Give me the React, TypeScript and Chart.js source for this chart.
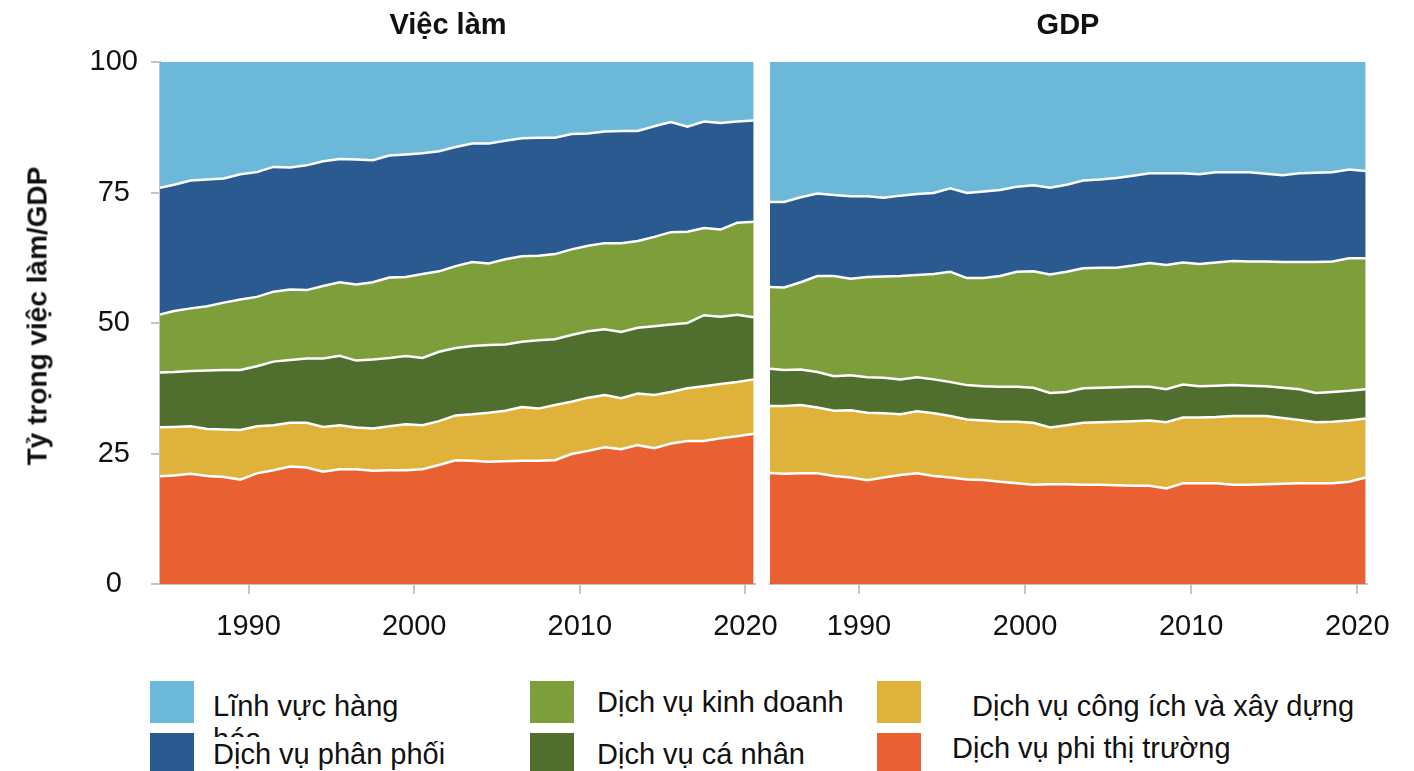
import React, { useEffect, useRef } from "react";
import { Chart, registerables } from "chart.js";

Chart.register(...registerables);

// ---------- data ----------
const years = [
  1984, 1985, 1986, 1987, 1988, 1989, 1990, 1991, 1992, 1993, 1994, 1995, 1996,
  1997, 1998, 1999, 2000, 2001, 2002, 2003, 2004, 2005, 2006, 2007, 2008, 2009,
  2010, 2011, 2012, 2013, 2014, 2015, 2016, 2017, 2018, 2019, 2020,
];

const sectorNames = [
  "Dịch vụ phi thị trường",
  "Dịch vụ công ích và xây dựng",
  "Dịch vụ cá nhân",
  "Dịch vụ kinh doanh",
  "Dịch vụ phân phối",
  "Lĩnh vực hàng hóa",
];
const sectorColors = ["#E96132", "#DFB23B", "#506E2E", "#7D9E3B", "#2B5A91", "#6CB8D8"];

// Employment shares (%)
const empNonMarket = [20.6, 20.8, 21.1, 20.7, 20.5, 20.0, 21.2, 21.8, 22.5, 22.3, 21.5, 22.0, 22.0, 21.7, 21.8, 21.8, 22.0, 22.8, 23.7, 23.6, 23.4, 23.5, 23.6, 23.6, 23.7, 24.9, 25.5, 26.2, 25.8, 26.6, 26.0, 26.9, 27.4, 27.4, 27.9, 28.3, 28.8];
const empUtilities = [9.4, 9.3, 9.1, 9.0, 9.1, 9.5, 9.0, 8.6, 8.4, 8.6, 8.6, 8.4, 8.0, 8.1, 8.4, 8.8, 8.4, 8.4, 8.6, 8.9, 9.4, 9.7, 10.3, 10.0, 10.6, 10.0, 10.2, 10.0, 9.8, 9.9, 10.2, 9.9, 10.1, 10.5, 10.4, 10.4, 10.4];
const empPersonal = [10.5, 10.5, 10.6, 11.2, 11.4, 11.5, 11.5, 12.2, 12.0, 12.3, 13.1, 13.3, 12.8, 13.2, 13.1, 13.1, 12.9, 13.3, 12.9, 13.1, 13.0, 12.7, 12.5, 13.1, 12.6, 12.8, 12.7, 12.6, 12.7, 12.6, 13.2, 12.9, 12.5, 13.6, 12.9, 12.9, 11.9];
const empBusiness = [11.0, 11.7, 12.0, 12.3, 12.9, 13.5, 13.3, 13.4, 13.5, 13.1, 13.9, 14.1, 14.6, 14.8, 15.4, 15.1, 16.1, 15.4, 15.7, 16.1, 15.6, 16.3, 16.4, 16.2, 16.3, 16.4, 16.4, 16.5, 17.0, 16.6, 17.1, 17.7, 17.5, 16.7, 16.7, 17.6, 18.3];
const empDistribution = [24.3, 24.2, 24.5, 24.3, 23.8, 24.0, 23.9, 23.9, 23.4, 23.9, 23.9, 23.6, 23.9, 23.4, 23.4, 23.5, 23.1, 23.0, 22.8, 22.7, 23.0, 22.7, 22.6, 22.6, 22.3, 22.1, 21.5, 21.4, 21.5, 21.1, 21.2, 21.1, 20.1, 20.4, 20.4, 19.4, 19.4];
const empGoods = [24.2, 23.5, 22.7, 22.5, 22.3, 21.5, 21.1, 20.1, 20.2, 19.8, 19.0, 18.6, 18.7, 18.8, 17.9, 17.7, 17.5, 17.1, 16.3, 15.6, 15.6, 15.1, 14.6, 14.5, 14.5, 13.8, 13.7, 13.3, 13.2, 13.2, 12.3, 11.5, 12.4, 11.4, 11.7, 11.4, 11.2];

// GDP shares (%)
const gdpNonMarket = [21.3, 21.1, 21.2, 21.2, 20.7, 20.4, 19.9, 20.4, 20.9, 21.2, 20.7, 20.4, 20.0, 19.9, 19.6, 19.3, 19.0, 19.1, 19.1, 19.0, 19.0, 18.9, 18.8, 18.8, 18.3, 19.3, 19.3, 19.3, 19.0, 19.0, 19.1, 19.2, 19.3, 19.3, 19.3, 19.6, 20.4];
const gdpUtilities = [12.8, 13.0, 13.1, 12.6, 12.5, 12.9, 12.9, 12.3, 11.6, 11.9, 12.0, 11.8, 11.5, 11.4, 11.5, 11.8, 11.9, 10.9, 11.3, 11.9, 12.0, 12.2, 12.4, 12.5, 12.7, 12.6, 12.6, 12.7, 13.2, 13.2, 13.1, 12.6, 12.1, 11.7, 11.8, 11.7, 11.3];
const gdpPersonal = [7.2, 6.9, 6.8, 6.8, 6.6, 6.7, 6.8, 6.8, 6.7, 6.5, 6.5, 6.5, 6.6, 6.6, 6.7, 6.7, 6.7, 6.6, 6.4, 6.6, 6.6, 6.6, 6.6, 6.5, 6.3, 6.3, 6.0, 6.0, 5.9, 5.8, 5.7, 5.8, 5.9, 5.6, 5.7, 5.7, 5.6];
const gdpBusiness = [15.6, 15.8, 16.7, 18.4, 19.2, 18.5, 19.2, 19.4, 19.8, 19.6, 20.2, 21.1, 20.5, 20.7, 21.2, 22.0, 22.3, 22.7, 23.0, 23.0, 23.0, 22.9, 23.2, 23.7, 23.8, 23.4, 23.4, 23.6, 23.8, 23.8, 23.9, 24.1, 24.4, 25.1, 25.0, 25.4, 25.1];
const gdpDistribution = [16.3, 16.4, 16.3, 15.8, 15.5, 15.8, 15.5, 15.1, 15.4, 15.5, 15.5, 16.0, 16.3, 16.6, 16.5, 16.3, 16.5, 16.6, 16.7, 16.8, 16.9, 17.2, 17.2, 17.2, 17.6, 17.1, 17.2, 17.3, 17.0, 17.1, 16.8, 16.6, 17.0, 17.1, 17.1, 17.0, 16.7];
const gdpGoods = [26.8, 26.8, 25.9, 25.2, 25.5, 25.7, 25.7, 26.0, 25.6, 25.3, 25.1, 24.2, 25.1, 24.8, 24.5, 23.9, 23.6, 24.1, 23.5, 22.7, 22.5, 22.2, 21.8, 21.3, 21.3, 21.3, 21.5, 21.1, 21.1, 21.1, 21.4, 21.7, 21.3, 21.2, 21.1, 20.6, 20.9];

const xTickYears = [1990, 2000, 2010, 2020];
const yTickValues = [0, 25, 50, 75, 100];
const panelTitles = ["Việc làm", "GDP"];
const yAxisTitle = "Tỷ trọng việc làm/GDP";

// ---------- chart ----------
const FONT = '"Liberation Sans", Arial, Helvetica, sans-serif';
const AXIS_GREY = "#c4c4c4";

function buildConfig(series: number[][], showY: boolean, padding: any): any {
  return {
    type: "line",
    data: {
      datasets: series.map((vals, i) => ({
        label: sectorNames[i],
        data: vals.map((v, j) => ({ x: years[j] + 0.5, y: v })),
        backgroundColor: sectorColors[i],
        borderColor: "#ffffff",
        borderWidth: i === series.length - 1 ? 0 : 2.5,
        fill: i === 0 ? "origin" : "-1",
        pointRadius: 0,
        pointHoverRadius: 0,
        tension: 0,
      })),
    },
    options: {
      responsive: false,
      animation: false,
      devicePixelRatio: 1,
      events: [],
      layout: { padding },
      plugins: {
        legend: { display: false },
        title: { display: false },
        tooltip: { enabled: false },
      },
      scales: {
        x: {
          type: "linear",
          min: 1984.65,
          max: 2020.58,
          afterBuildTicks: (s: any) => {
            s.ticks = xTickYears.map((v) => ({ value: v }));
          },
          ticks: {
            callback: (v: any) => String(v),
            font: { family: FONT, size: 29 },
            color: "#111111",
            padding: 16,
            maxRotation: 0,
            autoSkip: false,
          },
          grid: {
            drawOnChartArea: false,
            drawTicks: true,
            tickLength: 10,
            color: AXIS_GREY,
            lineWidth: 2,
          },
          border: { display: true, color: AXIS_GREY, width: 2 },
          afterFit: (s: any) => {
            s.height = 96;
            s.paddingLeft = 0;
            s.paddingRight = 0;
          },
        },
        y: {
          stacked: true,
          min: 0,
          max: 100,
          display: showY,
          afterBuildTicks: (s: any) => {
            s.ticks = yTickValues.map((v) => ({ value: v }));
          },
          ticks: {
            font: { family: FONT, size: 29 },
            color: "#111111",
            padding: 13,
            crossAlign: "center",
          },
          grid: {
            drawOnChartArea: false,
            drawTicks: true,
            tickLength: 9,
            color: AXIS_GREY,
            lineWidth: 2,
          },
          border: { display: true, color: AXIS_GREY, width: 2 },
          afterFit: (s: any) => {
            s.width = showY ? 160 : 0;
            s.paddingTop = 0;
            s.paddingBottom = 0;
          },
        },
      },
    },
  };
}

function Panel(props: {
  series: number[][];
  showY: boolean;
  left: number;
  width: number;
  padding: any;
}) {
  const ref = useRef<HTMLCanvasElement | null>(null);
  useEffect(() => {
    if (!ref.current) return;
    const chart = new Chart(ref.current, buildConfig(props.series, props.showY, props.padding));
    return () => chart.destroy();
  }, []);
  return (
    <canvas
      ref={ref}
      width={props.width}
      height={680}
      style={{ position: "absolute", left: props.left, top: 0, width: props.width, height: 680 }}
    />
  );
}

const textBase: any = {
  position: "absolute",
  fontFamily: FONT,
  fontSize: 29,
  color: "#111111",
  whiteSpace: "nowrap",
  lineHeight: "29px",
};

function LegendSwatch(props: { x: number; y: number; color: string }) {
  return (
    <div
      style={{
        position: "absolute",
        left: props.x,
        top: props.y,
        width: 44,
        height: 42,
        background: props.color,
      }}
    />
  );
}

export default function App() {
  const empSeries = [empNonMarket, empUtilities, empPersonal, empBusiness, empDistribution, empGoods];
  const gdpSeries = [gdpNonMarket, gdpUtilities, gdpPersonal, gdpBusiness, gdpDistribution, gdpGoods];

  return (
    <div
      style={{
        position: "fixed",
        left: 0,
        top: 0,
        width: 1414,
        height: 771,
        background: "#ffffff",
        overflow: "hidden",
      }}
    >
      <Panel series={empSeries} showY={true} left={0} width={800} padding={{ left: 0, top: 62, right: 45, bottom: 0 }} />
      <Panel series={gdpSeries} showY={false} left={700} width={714} padding={{ left: 70, top: 62, right: 47, bottom: 0 }} />

      {/* panel titles */}
      <div style={{ ...textBase, fontWeight: "bold", left: 448, top: 10, transform: "translateX(-50%)" }}>
        {panelTitles[0]}
      </div>
      <div style={{ ...textBase, fontWeight: "bold", left: 1068, top: 10, transform: "translateX(-50%)" }}>
        {panelTitles[1]}
      </div>

      {/* y axis title */}
      <div
        style={{
          ...textBase,
          fontWeight: "bold",
          fontSize: 28,
          left: 37,
          top: 316,
          transform: "translate(-50%, -50%) rotate(-90deg)",
        }}
      >
        {yAxisTitle}
      </div>

      {/* legend */}
      <LegendSwatch x={150} y={681} color={sectorColors[5]} />
      <div style={{ ...textBase, left: 213, top: 690, width: 200, whiteSpace: "normal", lineHeight: "33px" }}>
        {sectorNames[5]}
      </div>
      <LegendSwatch x={530} y={681} color={sectorColors[3]} />
      <div style={{ ...textBase, left: 597, top: 688 }}>{sectorNames[3]}</div>
      <LegendSwatch x={877} y={681} color={sectorColors[1]} />
      <div style={{ ...textBase, left: 972, top: 692 }}>{sectorNames[1]}</div>

      <LegendSwatch x={150} y={733} color={sectorColors[4]} />
      <div style={{ ...textBase, left: 213, top: 737, background: "#ffffff", paddingTop: 3, paddingRight: 4 }}>
        {sectorNames[4]}
      </div>
      <LegendSwatch x={530} y={733} color={sectorColors[2]} />
      <div style={{ ...textBase, left: 597, top: 740 }}>{sectorNames[2]}</div>
      <LegendSwatch x={877} y={733} color={sectorColors[0]} />
      <div style={{ ...textBase, left: 952, top: 734 }}>{sectorNames[0]}</div>
    </div>
  );
}
